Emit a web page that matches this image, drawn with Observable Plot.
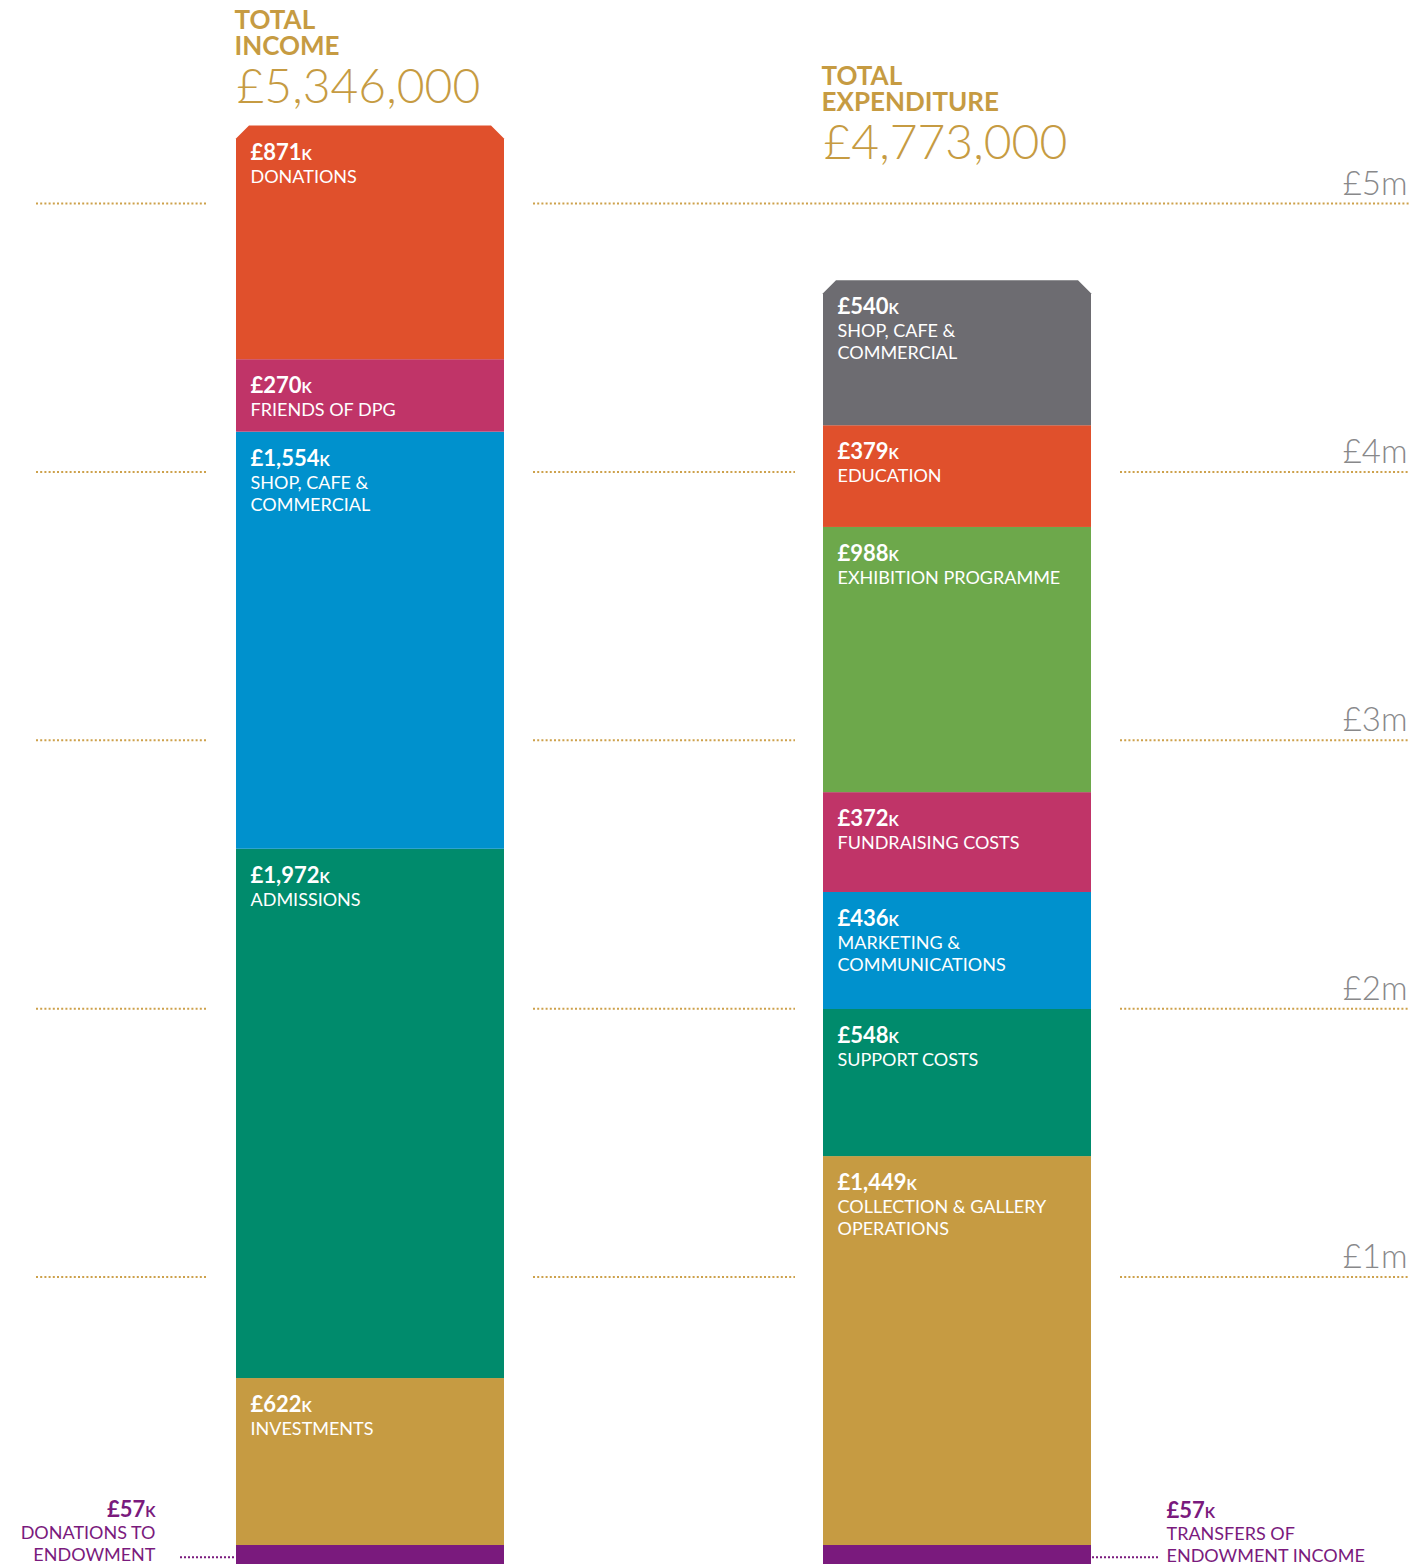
<!DOCTYPE html>
<html><head><meta charset="utf-8">
<script src="https://cdn.jsdelivr.net/npm/d3@7"></script>
<script src="https://cdn.jsdelivr.net/npm/@observablehq/plot@0.6"></script>
<style>
body{margin:0;background:#fff;}
#chart{width:1409px;height:1564px;}
#chart svg{font-family:Lato,"Open Sans",sans-serif;}
</style></head><body><div id="chart"></div>
<script>
// ---- data ----
const sides = ["Income", "Expenditure"];
const titles = ["TOTAL\nINCOME", "TOTAL\nEXPENDITURE"];
const totals = [5346000, 4773000];

// bottom-up order; first entry is the endowment item drawn below zero
const incomeCategories = ["DONATIONS TO\nENDOWMENT", "INVESTMENTS", "ADMISSIONS", "SHOP, CAFE &\nCOMMERCIAL", "FRIENDS OF DPG", "DONATIONS"];
const incomeValues = [57, 622, 1972, 1554, 270, 871];

const expenditureCategories = ["TRANSFERS OF\nENDOWMENT INCOME", "COLLECTION & GALLERY\nOPERATIONS", "SUPPORT COSTS", "MARKETING &\nCOMMUNICATIONS", "FUNDRAISING COSTS", "EXHIBITION PROGRAMME", "EDUCATION", "SHOP, CAFE &\nCOMMERCIAL"];
const expenditureValues = [57, 1449, 548, 436, 372, 988, 379, 540];

const scaleTicks = [1000, 2000, 3000, 4000, 5000];

// ---- styles ----
const incomeColors = ["#7A1A7D", "#C69B42", "#008B6C", "#0091CD", "#C03468", "#E0502C"];
const expenditureColors = ["#7A1A7D", "#C69B42", "#008B6C", "#0091CD", "#C03468", "#6DA84B", "#E0502C", "#6D6C71"];
const gold = "#C69B42";
const dotGold = "#CDA14B";
const purple = "#7A1A7D";

function build(side, cats, vals, cols) {
  let acc = 0;
  return cats.map((c, i) => {
    if (i === 0) return {side, cat: c, value: vals[i], y1: -vals[i], y2: 0, color: cols[i], endow: true, top: false};
    const r = {side, cat: c, value: vals[i], y1: acc, y2: acc + vals[i], color: cols[i], endow: false, top: i === cats.length - 1};
    acc += vals[i];
    return r;
  });
}
const rows = [
  ...build(sides[0], incomeCategories, incomeValues, incomeColors),
  ...build(sides[1], expenditureCategories, expenditureValues, expenditureColors)
];
const body = rows.filter(d => !d.endow && !d.top);
const tops = rows.filter(d => d.top);
const endow = rows.filter(d => d.endow);
const labelled = rows.filter(d => !d.endow);
const fmtK = d => "£" + d3.format(",")(d.value) + "k";
const titleRows = sides.map((s, i) => ({side: s, title: titles[i], total: "£" + d3.format(",")(totals[i])}));

const W = 1409;
const grid = {stroke: dotGold, strokeWidth: 2, strokeDasharray: "2,2.2"};
const leader = {stroke: purple, strokeWidth: 2, strokeDasharray: "2,2", dy: 4};

const chart = Plot.plot({
  width: W, height: 1564, margin: 0,
  x: {type: "band", domain: sides, range: [235, 1091], paddingInner: 0.5442, paddingOuter: 0, axis: null},
  y: {domain: [0, 5000], range: [1545, 203], axis: null},
  color: {type: "identity"},
  marks: [
    // dotted scale lines
    Plot.ruleY(scaleTicks, {...grid, insetLeft: 36, insetRight: W - 207}),
    Plot.ruleY(scaleTicks.filter(d => d < 5000), {...grid, insetLeft: 533, insetRight: W - 795}),
    Plot.ruleY(scaleTicks.filter(d => d === 5000), {...grid, insetLeft: 533, insetRight: 0}),
    Plot.ruleY(scaleTicks.filter(d => d < 5000), {...grid, insetLeft: 1120, insetRight: 0}),
    Plot.text(scaleTicks, {y: d => d, text: d => "£" + d / 1000 + "m", frameAnchor: "right", textAnchor: "end", lineAnchor: "bottom", dx: -2, dy: -9, fontSize: 33, fontWeight: 300, fill: "#88888A"}),
    // bars (body, top segments, endowment)
    Plot.barY(body, {x: "side", y1: "y1", y2: "y2", fill: "color"}),
    Plot.barY(tops, {x: "side", y1: "y1", y2: "y2", fill: "color"}),
    Plot.barY(endow, {x: "side", y1: "y1", y2: "y2", fill: "color", insetBottom: -4}),
    // bar labels
    Plot.text(labelled, {x: "side", y: "y2", text: fmtK, fill: "white", fontWeight: 700, fontSize: 22, fontVariant: "small-caps", textAnchor: "start", lineAnchor: "top", dx: -120, dy: 18}),
    Plot.text(labelled, {x: "side", y: "y2", text: "cat", fill: "white", fontSize: 18, lineHeight: 1.22, textAnchor: "start", lineAnchor: "top", dx: -120, dy: 41}),
    // endowment leaders and labels
    Plot.ruleY(endow.filter(d => d.side === sides[0]), {...leader, y: d => d.y1 / 2, insetLeft: 180, insetRight: W - 234}),
    Plot.ruleY(endow.filter(d => d.side === sides[1]), {...leader, y: d => d.y1 / 2, insetLeft: 1092, insetRight: W - 1158}),
    Plot.text(endow.filter(d => d.side === sides[0]), {x: "side", y: d => d.y1 / 2, text: fmtK, fill: purple, fontWeight: 700, fontSize: 22, fontVariant: "small-caps", textAnchor: "end", lineAnchor: "bottom", dx: -215, dy: -36}),
    Plot.text(endow.filter(d => d.side === sides[0]), {x: "side", y: d => d.y1 / 2, text: "cat", fill: purple, fontSize: 18, lineHeight: 1.22, textAnchor: "end", lineAnchor: "bottom", dx: -215, dy: 8}),
    Plot.text(endow.filter(d => d.side === sides[1]), {x: "side", y: d => d.y1 / 2, text: fmtK, fill: purple, fontWeight: 700, fontSize: 22, fontVariant: "small-caps", textAnchor: "start", lineAnchor: "bottom", dx: 209, dy: -35}),
    Plot.text(endow.filter(d => d.side === sides[1]), {x: "side", y: d => d.y1 / 2, text: "cat", fill: purple, fontSize: 18, lineHeight: 1.22, textAnchor: "start", lineAnchor: "bottom", dx: 209, dy: 9}),
    // titles
    Plot.text(titleRows.filter(d => d.side === sides[0]), {x: "side", text: "title", frameAnchor: "top", textAnchor: "start", lineAnchor: "top", dx: -136, dy: 10, fontSize: 26, fontWeight: 700, lineHeight: 1, fill: gold}),
    Plot.text(titleRows.filter(d => d.side === sides[0]), {x: "side", text: "total", frameAnchor: "top", textAnchor: "start", lineAnchor: "top", dx: -134, dy: 68, fontSize: 48, fontWeight: 300, fill: gold}),
    Plot.text(titleRows.filter(d => d.side === sides[1]), {x: "side", text: "title", frameAnchor: "top", textAnchor: "start", lineAnchor: "top", dx: -136, dy: 66, fontSize: 26, fontWeight: 700, lineHeight: 1, fill: gold}),
    Plot.text(titleRows.filter(d => d.side === sides[1]), {x: "side", text: "total", frameAnchor: "top", textAnchor: "start", lineAnchor: "top", dx: -134, dy: 124, fontSize: 48, fontWeight: 300, fill: gold})
  ]
});

// chamfer the top corners of the top segments (second bar mark)
const c = 13;
const barGroups = d3.select(chart).selectAll('g[aria-label="bar"]').nodes();
if (barGroups.length > 1) {
  d3.select(barGroups[1]).selectAll("rect").each(function () {
    const r = d3.select(this);
    const x = +r.attr("x"), y = +r.attr("y"), w = +r.attr("width"), h = +r.attr("height");
    d3.select(this.parentNode).insert("path", () => this)
      .attr("fill", r.attr("fill"))
      .attr("d", `M${x},${y + c}L${x + c},${y}L${x + w - c},${y}L${x + w},${y + c}L${x + w},${y + h}L${x},${y + h}Z`);
    r.remove();
  });
}
document.getElementById("chart").appendChild(chart);
</script></body></html>
